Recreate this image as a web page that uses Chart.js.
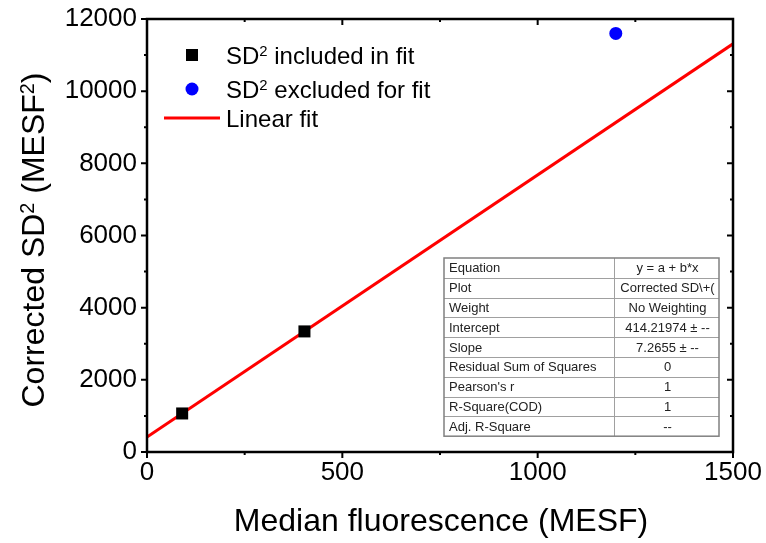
<!DOCTYPE html>
<html>
<head>
<meta charset="utf-8">
<script src="https://cdn.jsdelivr.net/npm/chart.js@4.4.1/dist/chart.umd.min.js"></script>
<style>
  html, body { margin: 0; padding: 0; background: #fff; }
  #wrap { width: 766px; height: 543px; position: relative; }
</style>
</head>
<body>
<div id="wrap"><canvas id="fitChart"></canvas></div>
<script>
/* ---------- Data ---------- */
const includedX = [90, 403];
const includedY = [1068, 3342];
const excludedX = [1200];
const excludedY = [11600];
const fitX = [0, 1500];
const fitY = [414.2, 11312];

const xMajorTicks = [0, 500, 1000, 1500];
const xMinorTicks = [250, 750, 1250];
const yMajorTicks = [0, 2000, 4000, 6000, 8000, 10000, 12000];
const yMinorTicks = [1000, 3000, 5000, 7000, 9000, 11000];

const xTitle = 'Median fluorescence (MESF)';
const yTitle = 'Corrected SD² (MESF²)';
const legendLabels = ['SD² included in fit', 'SD² excluded for fit', 'Linear fit'];

const tableLabels = ['Equation', 'Plot', 'Weight', 'Intercept', 'Slope',
    'Residual Sum of Squares', "Pearson's r", 'R-Square(COD)', 'Adj. R-Square'];
const tableValues = ['y = a + b*x', 'Corrected SD\\+(', 'No Weighting', '414.21974 ± --',
    '7.2655 ± --', '0', '1', '1', '--'];

const FONT = '"Liberation Sans", Arial, sans-serif';

const toPoints = (xs, ys) => xs.map((x, i) => ({ x: x, y: ys[i] }));

/* ---------- Text with a raised "2" for the ² sign ---------- */
function supParts(text) {
    const out = [];
    text.split('²').forEach((p, i) => {
        if (i > 0) out.push({ t: '2', sup: true });
        if (p) out.push({ t: p, sup: false });
    });
    return out;
}
function supWidth(ctx, text, size) {
    let w = 0;
    supParts(text).forEach(p => {
        ctx.font = (p.sup ? size * 0.62 : size) + 'px ' + FONT;
        w += ctx.measureText(p.t).width;
    });
    return w;
}
// draws with left edge at x, vertical middle at y
function drawSup(ctx, text, x, y, size) {
    ctx.textAlign = 'left';
    ctx.textBaseline = 'alphabetic';
    const base = y + size * 0.36;
    supParts(text).forEach(p => {
        ctx.font = (p.sup ? size * 0.62 : size) + 'px ' + FONT;
        ctx.fillText(p.t, x, p.sup ? base - size * 0.3 : base);
        x += ctx.measureText(p.t).width;
    });
}

/* ---------- Frame, ticks, labels, legend, table ---------- */
const decorPlugin = {
    id: 'decor',
    afterDatasetsDraw(chart) {
        const ctx = chart.ctx;
        const a = chart.chartArea;
        const xs = chart.scales.x, ys = chart.scales.y;
        ctx.save();

        // frame
        ctx.strokeStyle = '#000';
        ctx.lineWidth = 2.5;
        ctx.strokeRect(a.left, a.top, a.right - a.left, a.bottom - a.top);

        // ticks
        ctx.lineWidth = 2;
        ctx.beginPath();
        const tickX = (v, len) => {
            const px = xs.getPixelForValue(v);
            ctx.moveTo(px, a.bottom); ctx.lineTo(px, a.bottom + len);
            ctx.moveTo(px, a.top); ctx.lineTo(px, a.top + len);
        };
        const tickY = (v, len) => {
            const py = ys.getPixelForValue(v);
            ctx.moveTo(a.left, py); ctx.lineTo(a.left - len, py);
            ctx.moveTo(a.right, py); ctx.lineTo(a.right - len, py);
        };
        xMajorTicks.forEach(v => tickX(v, 6));
        xMinorTicks.forEach(v => tickX(v, 3));
        yMajorTicks.forEach(v => tickY(v, 6));
        yMinorTicks.forEach(v => tickY(v, 3));
        ctx.stroke();

        // tick labels
        ctx.fillStyle = '#000';
        ctx.font = '26px ' + FONT;
        ctx.textAlign = 'center';
        ctx.textBaseline = 'top';
        xMajorTicks.forEach(v => ctx.fillText(String(v), xs.getPixelForValue(v), a.bottom + 8));
        ctx.textAlign = 'right';
        ctx.textBaseline = 'middle';
        yMajorTicks.forEach(v => ctx.fillText(String(v), a.left - 10, ys.getPixelForValue(v)));

        // axis titles
        ctx.font = '32px ' + FONT;
        ctx.textAlign = 'center';
        ctx.textBaseline = 'middle';
        ctx.fillText(xTitle, (a.left + a.right) / 2 + 1, 522);
        ctx.save();
        ctx.translate(32, 240);
        ctx.rotate(-Math.PI / 2);
        const tw0 = supWidth(ctx, yTitle, 32);
        drawSup(ctx, yTitle, -tw0 / 2, 0, 32);
        ctx.restore();

        // legend
        const lx = a.left + 45, ly = [55, 89, 118];
        ctx.fillStyle = '#000';
        ctx.fillRect(lx - 6, ly[0] - 6, 12, 12);
        ctx.fillStyle = '#0000ff';
        ctx.beginPath(); ctx.arc(lx, ly[1], 6.5, 0, Math.PI * 2); ctx.fill();
        ctx.strokeStyle = '#ff0000'; ctx.lineWidth = 3;
        ctx.beginPath(); ctx.moveTo(lx - 28, ly[2]); ctx.lineTo(lx + 28, ly[2]); ctx.stroke();
        ctx.fillStyle = '#000';
        legendLabels.forEach((t, i) => drawSup(ctx, t, lx + 34, ly[i], 24));

        // fit statistics table
        const tx = 444, ty = 258, colW = [170, 105], rowH = 19.8;
        const tw = colW[0] + colW[1];
        ctx.fillStyle = '#fff';
        ctx.fillRect(tx, ty, tw, rowH * tableLabels.length);
        ctx.strokeStyle = '#a0a0a0';
        ctx.lineWidth = 1;
        ctx.beginPath();
        for (let i = 1; i < tableLabels.length; i++) {
            const y = Math.round(ty + i * rowH) + 0.5;
            ctx.moveTo(tx, y); ctx.lineTo(tx + tw, y);
        }
        ctx.moveTo(tx + colW[0] + 0.5, ty); ctx.lineTo(tx + colW[0] + 0.5, ty + rowH * tableLabels.length);
        ctx.stroke();
        ctx.strokeStyle = '#808080';
        ctx.lineWidth = 1.5;
        ctx.strokeRect(tx, ty, tw, rowH * tableLabels.length);
        ctx.fillStyle = '#222';
        ctx.font = '13px ' + FONT;
        ctx.textBaseline = 'middle';
        tableLabels.forEach((t, i) => {
            const cy = ty + i * rowH + rowH / 2 + 1;
            ctx.textAlign = 'left';
            ctx.fillText(t, tx + 5, cy);
            ctx.textAlign = 'center';
            ctx.fillText(tableValues[i], tx + colW[0] + colW[1] / 2 + 1, cy);
        });

        ctx.restore();
    }
};

/* ---------- Chart ---------- */
new Chart(document.getElementById('fitChart'), {
    type: 'scatter',
    data: {
        datasets: [
            {
                label: 'Linear fit',
                type: 'line',
                data: toPoints(fitX, fitY),
                borderColor: '#ff0000',
                borderWidth: 3,
                pointRadius: 0,
                fill: false,
                order: 3
            },
            {
                label: 'SD2 included in fit',
                data: toPoints(includedX, includedY),
                pointStyle: 'rect',
                pointRadius: 8.5,
                backgroundColor: '#000',
                borderColor: '#000',
                borderWidth: 0,
                order: 2
            },
            {
                label: 'SD2 excluded for fit',
                data: toPoints(excludedX, excludedY),
                pointStyle: 'circle',
                pointRadius: 6.5,
                backgroundColor: '#0000ff',
                borderColor: '#0000ff',
                borderWidth: 0,
                order: 1
            }
        ]
    },
    options: {
        responsive: true,
        maintainAspectRatio: false,
        animation: false,
        layout: { padding: { left: 147, top: 19, right: 33, bottom: 91 } },
        plugins: { legend: { display: false }, tooltip: { enabled: false } },
        scales: {
            x: { type: 'linear', min: 0, max: 1500, display: false },
            y: { type: 'linear', min: 0, max: 12000, display: false }
        }
    },
    plugins: [decorPlugin]
});
</script>
</body>
</html>
